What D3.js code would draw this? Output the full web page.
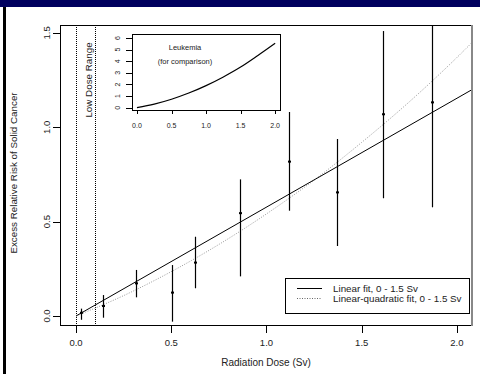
<!DOCTYPE html>
<html>
<head>
<meta charset="utf-8">
<script src="https://cdn.jsdelivr.net/npm/d3@7"></script>
<style>
  body { margin: 0; background: #fff; }
  svg { display: block; font-family: "Liberation Sans", Arial, sans-serif; }
</style>
</head>
<body>
<div id="chart"></div>
<script>
// dose groups (Sv) and excess relative risk with error bars
var doses  = [0.026, 0.143, 0.315, 0.502, 0.625, 0.862, 1.117, 1.368, 1.613, 1.867];
var errVal = [0.017, 0.053, 0.173, 0.124, 0.283, 0.545, 0.818, 0.655, 1.069, 1.132];
var errLo  = [-0.02, -0.009, 0.099, -0.03, 0.147, 0.21, 0.558, 0.371, 0.624, 0.576];
var errHi  = [0.039, 0.111, 0.244, 0.27, 0.42, 0.724, 1.081, 0.938, 1.51, 1.6];

// fitted curves
var linDose = [0, 2.08];
var linErr  = [0, 1.2];
var lqDose  = [0, 0.25, 0.5, 0.75, 1.0, 1.25, 1.5, 1.75, 2.0, 2.08];
var lqErr   = [0, 0.108, 0.235, 0.379, 0.541, 0.72, 0.92, 1.135, 1.37, 1.45];

// inset: leukemia
var leukDose = [0, 0.25, 0.5, 0.75, 1.0, 1.25, 1.5, 1.75, 2.0];
var leukErr  = [0, 0.31, 0.73, 1.26, 1.9, 2.65, 3.5, 4.5, 5.55];

var xTicks = [0, 0.5, 1.0, 1.5, 2.0];
var yTicks = [0, 0.5, 1.0, 1.5];
var insetYTicks = [0, 1, 2, 3, 4, 5, 6];
var lowDose = [0, 0.1];

var svgWidth = 480, svgHeight = 374;
var box = {left: 60, right: 472, top: 25, bottom: 326};

var svg = d3.select("#chart").append("svg")
    .attr("width", svgWidth)
    .attr("height", svgHeight);

// slide frame
svg.append("rect").attr("x", 0).attr("y", 0).attr("width", svgWidth).attr("height", 7).attr("fill", "#00005e");
svg.append("rect").attr("x", 3).attr("y", 7).attr("width", 3).attr("height", svgHeight - 7).attr("fill", "#000");

var x = d3.scaleLinear().domain([-0.084, 2.079]).range([box.left, box.right]);
var y = d3.scaleLinear().domain([-0.053, 1.542]).range([box.bottom, box.top]);

svg.append("clipPath").attr("id", "clip")
  .append("rect")
    .attr("x", box.left).attr("y", box.top)
    .attr("width", box.right - box.left).attr("height", box.bottom - box.top);

var plot = svg.append("g").attr("clip-path", "url(#clip)");

// low dose range
plot.append("g").selectAll("line")
    .data(lowDose).enter().append("line")
    .attr("x1", d => Math.round(x(d)) + 0.5).attr("x2", d => Math.round(x(d)) + 0.5)
    .attr("y1", box.top).attr("y2", box.bottom)
    .attr("stroke", "#000").attr("stroke-width", 1)
    .attr("stroke-dasharray", "1,1");

svg.append("text")
    .attr("transform", `translate(92, 80) rotate(-90)`)
    .attr("text-anchor", "middle")
    .attr("font-size", 9.8).attr("fill", "#222")
    .text("Low Dose Range");

// fits
plot.append("path")
    .datum(d3.zip(lqDose, lqErr))
    .attr("fill", "none").attr("stroke", "#999").attr("stroke-width", 1)
    .attr("stroke-dasharray", "1,1.5")
    .attr("d", d3.line().x(d => x(d[0])).y(d => y(d[1])).curve(d3.curveMonotoneX));

plot.append("path")
    .datum(d3.zip(linDose, linErr))
    .attr("fill", "none").attr("stroke", "#000").attr("stroke-width", 1)
    .attr("d", d3.line().x(d => x(d[0])).y(d => y(d[1])));

// error bars and points
var pts = doses.map((d, i) => ({dose: d, v: errVal[i], lo: errLo[i], hi: errHi[i]}));

plot.append("g").selectAll("line")
    .data(pts).enter().append("line")
    .attr("x1", d => Math.round(x(d.dose)) + 0.5)
    .attr("x2", d => Math.round(x(d.dose)) + 0.5)
    .attr("y1", d => y(d.lo)).attr("y2", d => y(d.hi))
    .attr("stroke", "#000").attr("stroke-width", 1.2);

plot.append("g").selectAll("rect")
    .data(pts).enter().append("rect")
    .attr("x", d => Math.round(x(d.dose)) - 1)
    .attr("y", d => y(d.v) - 1)
    .attr("width", 3).attr("height", 2)
    .attr("fill", "#000");

// box
svg.append("rect")
    .attr("x", box.left + 0.5).attr("y", box.top + 0.5)
    .attr("width", box.right - box.left - 1).attr("height", box.bottom - box.top - 1)
    .attr("fill", "none").attr("stroke", "#000");
svg.append("rect")
    .attr("x", box.right - 1).attr("y", box.top).attr("width", 2).attr("height", box.bottom - box.top)
    .attr("fill", "#888");

// axes
var xAxis = svg.append("g").attr("transform", `translate(0, ${box.bottom})`);
xAxis.selectAll("line").data(xTicks).enter().append("line")
    .attr("x1", d => Math.round(x(d)) + 0.5).attr("x2", d => Math.round(x(d)) + 0.5)
    .attr("y1", 0).attr("y2", 7).attr("stroke", "#000");
xAxis.selectAll("text").data(xTicks).enter().append("text")
    .attr("x", d => x(d)).attr("y", 20)
    .attr("text-anchor", "middle").attr("font-size", 9.5).attr("fill", "#222")
    .text(d => d.toFixed(1));

var yAxis = svg.append("g").attr("transform", `translate(${box.left}, 0)`);
yAxis.selectAll("line").data(yTicks).enter().append("line")
    .attr("x1", -7).attr("x2", 0)
    .attr("y1", d => Math.round(y(d)) + 0.5).attr("y2", d => Math.round(y(d)) + 0.5)
    .attr("stroke", "#000");
yAxis.selectAll("text").data(yTicks).enter().append("text")
    .attr("transform", d => `translate(-10, ${y(d)}) rotate(-90)`)
    .attr("text-anchor", "middle").attr("font-size", 9.5).attr("fill", "#222")
    .text(d => d.toFixed(1));

svg.append("text")
    .attr("x", 266).attr("y", 366)
    .attr("text-anchor", "middle").attr("font-size", 10).attr("fill", "#222")
    .text("Radiation Dose (Sv)");

svg.append("text")
    .attr("transform", `translate(17, 173) rotate(-90)`)
    .attr("text-anchor", "middle").attr("font-size", 9.8).attr("fill", "#222")
    .text("Excess Relative Risk of Solid Cancer");

// legend
var legend = svg.append("g");
legend.append("rect")
    .attr("x", 285.5).attr("y", 278.5).attr("width", 184).attr("height", 35)
    .attr("fill", "#fff").attr("stroke", "#000");
legend.append("line").attr("x1", 297).attr("x2", 322).attr("y1", 288.5).attr("y2", 288.5)
    .attr("stroke", "#000");
legend.append("line").attr("x1", 297).attr("x2", 322).attr("y1", 298.5).attr("y2", 298.5)
    .attr("stroke", "#666").attr("stroke-dasharray", "1,1.5");
legend.append("text").attr("x", 333).attr("y", 291.5).attr("font-size", 9.8).attr("fill", "#222")
    .text("Linear fit, 0 - 1.5 Sv");
legend.append("text").attr("x", 333).attr("y", 302).attr("font-size", 9.8).attr("fill", "#222")
    .text("Linear-quadratic fit, 0 - 1.5 Sv");

// inset
var ibox = {left: 132, right: 280, top: 34, bottom: 110};
var ix = d3.scaleLinear().domain([-0.072, 2.07]).range([ibox.left, ibox.right]);
var iy = d3.scaleLinear().domain([-0.2, 6.35]).range([ibox.bottom, ibox.top]);

var inset = svg.append("g");
inset.append("rect")
    .attr("x", ibox.left + 0.5).attr("y", ibox.top + 0.5)
    .attr("width", ibox.right - ibox.left).attr("height", ibox.bottom - ibox.top)
    .attr("fill", "#fff").attr("stroke", "#000");

inset.append("path")
    .datum(d3.zip(leukDose, leukErr))
    .attr("fill", "none").attr("stroke", "#000").attr("stroke-width", 1.2)
    .attr("d", d3.line().x(d => ix(d[0])).y(d => iy(d[1])).curve(d3.curveMonotoneX));

inset.append("g").selectAll("line").data(xTicks).enter().append("line")
    .attr("x1", d => Math.round(ix(d)) + 0.5).attr("x2", d => Math.round(ix(d)) + 0.5)
    .attr("y1", ibox.bottom).attr("y2", ibox.bottom + 4).attr("stroke", "#000");
inset.append("g").selectAll("text").data(xTicks).enter().append("text")
    .attr("x", d => ix(d)).attr("y", 128)
    .attr("text-anchor", "middle").attr("font-size", 7).attr("fill", "#222")
    .text(d => d.toFixed(1));

inset.append("g").selectAll("line").data(insetYTicks).enter().append("line")
    .attr("x1", ibox.left - 6).attr("x2", ibox.left)
    .attr("y1", d => Math.round(iy(d)) + 0.5).attr("y2", d => Math.round(iy(d)) + 0.5)
    .attr("stroke", "#000");
inset.append("g").selectAll("text").data(insetYTicks).enter().append("text")
    .attr("transform", d => `translate(120, ${iy(d)}) rotate(-90)`)
    .attr("text-anchor", "middle").attr("font-size", 7).attr("fill", "#222")
    .text(d => d);

inset.append("text").attr("x", 185).attr("y", 50)
    .attr("text-anchor", "middle").attr("font-size", 7.5).attr("fill", "#222")
    .text("Leukemia");
inset.append("text").attr("x", 185).attr("y", 64)
    .attr("text-anchor", "middle").attr("font-size", 7.5).attr("fill", "#222")
    .text("(for comparison)");
</script>
</body>
</html>
